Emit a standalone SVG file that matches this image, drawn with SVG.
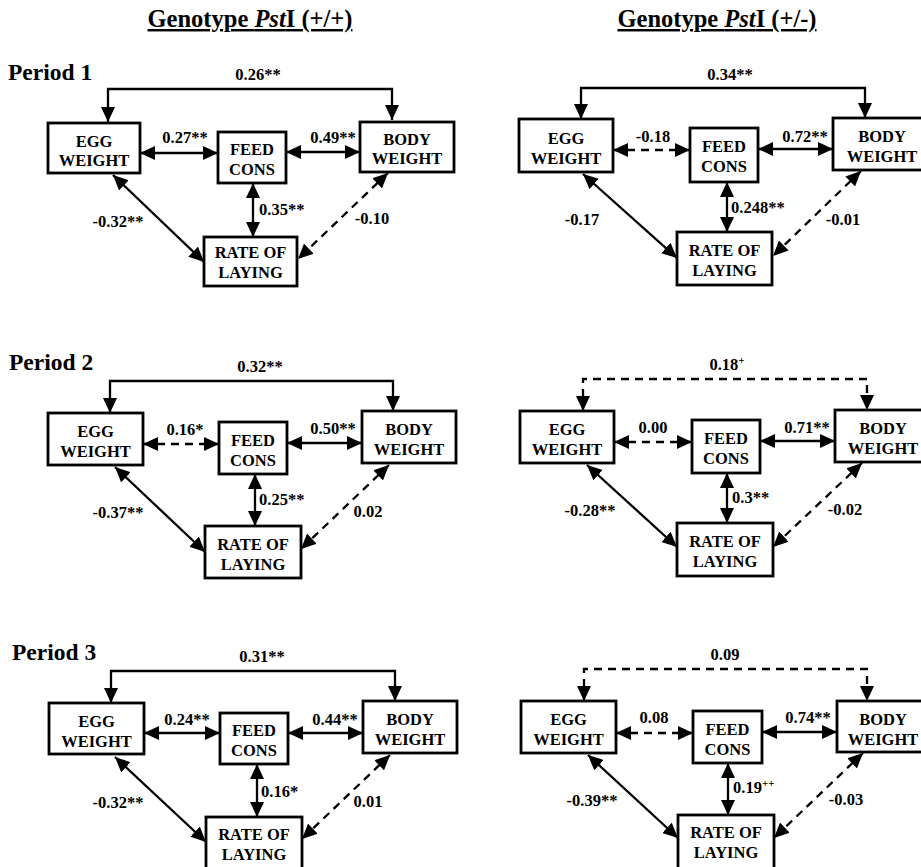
<svg xmlns="http://www.w3.org/2000/svg" width="921" height="867" viewBox="0 0 921 867">
<style>
text{font-family:"Liberation Serif","Times New Roman",serif;font-weight:bold;fill:#000}
.box{fill:#fff;stroke:#000;stroke-width:2.8}
.nt{font-size:16.5px;text-anchor:middle}
.lb{font-size:16.5px;text-anchor:middle}
.ls{font-size:16.5px;text-anchor:start}
.per{font-size:23.5px}
.ttl{font-size:24.5px;text-anchor:middle;text-decoration:underline}
.c{fill:none;stroke:#000;stroke-width:2.3;marker-start:url(#ah);marker-end:url(#ah)}
.d{stroke-dasharray:8 6}
</style>
<defs>
<marker id="ah" markerUnits="userSpaceOnUse" markerWidth="15" markerHeight="14" viewBox="0 0 15 14" refX="15" refY="7" orient="auto-start-reverse">
<path d="M0,0 L15,7 L0,14 z" fill="#000" stroke="none"/>
</marker>
</defs>
<rect width="921" height="867" fill="#fff"/>

<text class="ttl" x="250" y="27">Genotype <tspan font-style="italic">Pst</tspan>I (+/+)</text>
<text class="ttl" x="717" y="27">Genotype <tspan font-style="italic">Pst</tspan>I (+/-)</text>
<text class="per" x="8" y="80">Period 1</text>
<text class="per" x="9" y="370">Period 2</text>
<text class="per" x="12" y="660">Period 3</text>

<g id="connectors">
<path class="c" d="M108,122 V89 H392 V120"/>
<path class="c" d="M140,153 H218"/>
<path class="c" d="M286,152 H360"/>
<path class="c" d="M253,183 V237"/>
<path class="c" d="M113,175 L204,262"/>
<path class="c d" d="M388,173 L298,259"/>

<path class="c" d="M581,119 V88 H865 V118"/>
<path class="c d" d="M613,150 H690"/>
<path class="c" d="M758,149 H833"/>
<path class="c" d="M727,182 V232"/>
<path class="c" d="M583,174 L677,258"/>
<path class="c d" d="M861,171 L773,256"/>

<path class="c" d="M110,413 V381 H393 V411"/>
<path class="c d" d="M143,444 H219"/>
<path class="c" d="M287,443 H362"/>
<path class="c" d="M255,474 V526"/>
<path class="c" d="M115,467 L205,552"/>
<path class="c d" d="M389,465 L301,549"/>

<path class="c d" d="M583,411 V379 H867 V410"/>
<path class="c d" d="M614,442 H692"/>
<path class="c" d="M760,441 H835"/>
<path class="c" d="M727,473 V523"/>
<path class="c" d="M587,465 L677,547"/>
<path class="c d" d="M862,463 L773,547"/>

<path class="c" d="M111,703 V671 H395 V701"/>
<path class="c" d="M144,733 H220"/>
<path class="c" d="M288,733 H363"/>
<path class="c" d="M257,764 V817"/>
<path class="c" d="M115,757 L206,842"/>
<path class="c d" d="M390,755 L302,839"/>

<path class="c d" d="M584,701 V669 H867 V701"/>
<path class="c d" d="M616,733 H693"/>
<path class="c" d="M762,732 H837"/>
<path class="c" d="M728,763 V815"/>
<path class="c" d="M588,755 L678,838"/>
<path class="c d" d="M863,753 L774,838"/>
</g>

<g id="edge-labels">
<text class="lb" x="258" y="80">0.26**</text>
<text class="lb" x="185" y="143">0.27**</text>
<text class="lb" x="333" y="143">0.49**</text>
<text class="ls" x="259" y="215">0.35**</text>
<text class="lb" x="118" y="227">-0.32**</text>
<text class="lb" x="372" y="224">-0.10</text>

<text class="lb" x="730" y="80">0.34**</text>
<text class="lb" x="653" y="142">-0.18</text>
<text class="lb" x="805" y="142">0.72**</text>
<text class="ls" x="731" y="213">0.248**</text>
<text class="lb" x="582" y="225">-0.17</text>
<text class="lb" x="843" y="225">-0.01</text>

<text class="lb" x="260" y="372">0.32**</text>
<text class="lb" x="185" y="435">0.16*</text>
<text class="lb" x="333" y="434">0.50**</text>
<text class="ls" x="259" y="505">0.25**</text>
<text class="lb" x="118" y="518">-0.37**</text>
<text class="lb" x="368" y="517">0.02</text>

<text class="lb" x="727" y="370">0.18<tspan font-size="11" dy="-6">+</tspan></text>
<text class="lb" x="653" y="433">0.00</text>
<text class="lb" x="807" y="433">0.71**</text>
<text class="ls" x="732" y="503">0.3**</text>
<text class="lb" x="590" y="516">-0.28**</text>
<text class="lb" x="845" y="515">-0.02</text>

<text class="lb" x="262" y="662">0.31**</text>
<text class="lb" x="187" y="725">0.24**</text>
<text class="lb" x="335" y="725">0.44**</text>
<text class="ls" x="261" y="797">0.16*</text>
<text class="lb" x="118" y="808">-0.32**</text>
<text class="lb" x="368" y="807">0.01</text>

<text class="lb" x="725" y="660">0.09</text>
<text class="lb" x="654" y="723">0.08</text>
<text class="lb" x="808" y="723">0.74**</text>
<text class="ls" x="733" y="793">0.19<tspan font-size="11" dy="-6">++</tspan></text>
<text class="lb" x="592" y="806">-0.39**</text>
<text class="lb" x="846" y="805">-0.03</text>
</g>

<g id="p1l-egg"><rect class="box" x="48" y="123" width="92" height="50"/><text class="nt" x="94" y="147">EGG</text><text class="nt" x="94" y="166">WEIGHT</text></g>
<g id="p1l-feed"><rect class="box" x="218" y="132" width="68" height="51"/><text class="nt" x="252" y="155">FEED</text><text class="nt" x="252" y="175">CONS</text></g>
<g id="p1l-body"><rect class="box" x="360" y="122" width="94" height="50"/><text class="nt" x="407" y="145">BODY</text><text class="nt" x="407" y="164">WEIGHT</text></g>
<g id="p1l-rate"><rect class="box" x="204" y="237" width="93" height="49"/><text class="nt" x="250.5" y="258">RATE OF</text><text class="nt" x="250.5" y="278">LAYING</text></g>

<g id="p1r-egg"><rect class="box" x="519" y="119" width="94" height="53"/><text class="nt" x="566" y="144">EGG</text><text class="nt" x="566" y="164">WEIGHT</text></g>
<g id="p1r-feed"><rect class="box" x="690" y="128" width="68" height="54"/><text class="nt" x="724" y="152">FEED</text><text class="nt" x="724" y="172">CONS</text></g>
<g id="p1r-body"><rect class="box" x="833" y="118" width="100" height="52"/><text class="nt" x="882" y="142">BODY</text><text class="nt" x="882" y="162">WEIGHT</text></g>
<g id="p1r-rate"><rect class="box" x="677" y="232" width="95" height="53"/><text class="nt" x="724.5" y="256">RATE OF</text><text class="nt" x="724.5" y="276">LAYING</text></g>

<g id="p2l-egg"><rect class="box" x="48" y="413" width="95" height="52"/><text class="nt" x="95.5" y="437">EGG</text><text class="nt" x="95.5" y="457">WEIGHT</text></g>
<g id="p2l-feed"><rect class="box" x="219" y="422" width="68" height="52"/><text class="nt" x="253" y="446">FEED</text><text class="nt" x="253" y="466">CONS</text></g>
<g id="p2l-body"><rect class="box" x="362" y="411" width="94" height="52"/><text class="nt" x="409" y="435">BODY</text><text class="nt" x="409" y="455">WEIGHT</text></g>
<g id="p2l-rate"><rect class="box" x="205" y="526" width="96" height="52"/><text class="nt" x="253" y="550">RATE OF</text><text class="nt" x="253" y="570">LAYING</text></g>

<g id="p2r-egg"><rect class="box" x="520" y="411" width="94" height="52"/><text class="nt" x="567" y="435">EGG</text><text class="nt" x="567" y="455">WEIGHT</text></g>
<g id="p2r-feed"><rect class="box" x="692" y="420" width="68" height="53"/><text class="nt" x="726" y="444">FEED</text><text class="nt" x="726" y="464">CONS</text></g>
<g id="p2r-body"><rect class="box" x="835" y="410" width="100" height="52"/><text class="nt" x="883" y="434">BODY</text><text class="nt" x="883" y="454">WEIGHT</text></g>
<g id="p2r-rate"><rect class="box" x="677" y="523" width="96" height="53"/><text class="nt" x="725" y="547">RATE OF</text><text class="nt" x="725" y="567">LAYING</text></g>

<g id="p3l-egg"><rect class="box" x="49" y="703" width="95" height="51"/><text class="nt" x="96.5" y="727">EGG</text><text class="nt" x="96.5" y="747">WEIGHT</text></g>
<g id="p3l-feed"><rect class="box" x="220" y="713" width="68" height="51"/><text class="nt" x="254" y="736">FEED</text><text class="nt" x="254" y="756">CONS</text></g>
<g id="p3l-body"><rect class="box" x="363" y="701" width="94" height="52"/><text class="nt" x="410" y="725">BODY</text><text class="nt" x="410" y="745">WEIGHT</text></g>
<g id="p3l-rate"><rect class="box" x="206" y="817" width="96" height="60"/><text class="nt" x="254" y="840">RATE OF</text><text class="nt" x="254" y="860">LAYING</text></g>

<g id="p3r-egg"><rect class="box" x="521" y="701" width="95" height="52"/><text class="nt" x="568.5" y="725">EGG</text><text class="nt" x="568.5" y="745">WEIGHT</text></g>
<g id="p3r-feed"><rect class="box" x="693" y="711" width="69" height="52"/><text class="nt" x="727.5" y="735">FEED</text><text class="nt" x="727.5" y="755">CONS</text></g>
<g id="p3r-body"><rect class="box" x="837" y="701" width="100" height="51"/><text class="nt" x="883" y="725">BODY</text><text class="nt" x="883" y="745">WEIGHT</text></g>
<g id="p3r-rate"><rect class="box" x="678" y="815" width="96" height="60"/><text class="nt" x="726" y="838">RATE OF</text><text class="nt" x="726" y="858">LAYING</text></g>
</svg>
